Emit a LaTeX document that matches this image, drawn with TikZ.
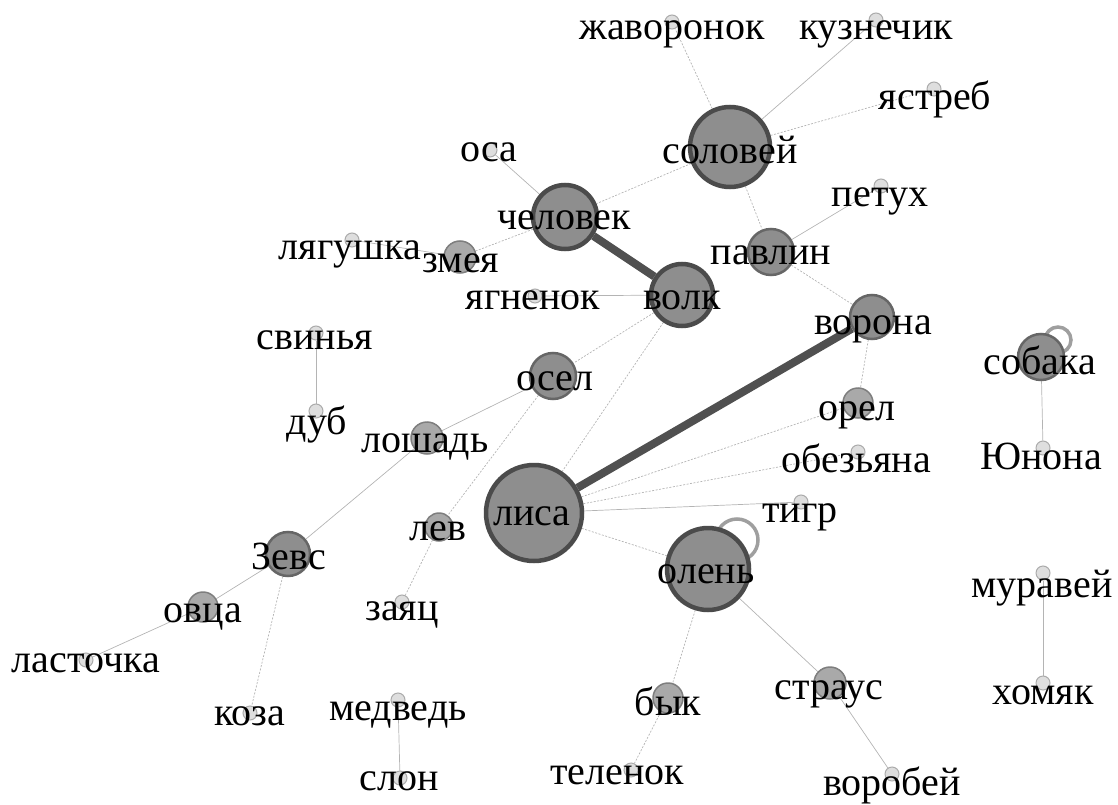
\documentclass[tikz,border=0pt]{standalone}
\usepackage{fontspec}
\setmainfont{Liberation Serif}
\newfontfamily\labelfont{Liberation Serif}
\usetikzlibrary{backgrounds}
\definecolor{nodedark}{HTML}{8E8E8E}
\definecolor{rimdark}{HTML}{4B4B4B}
\definecolor{nodemid}{HTML}{A9A9A9}
\definecolor{rimmid}{HTML}{7E7E7E}
\definecolor{nodelight}{HTML}{DEDEDE}
\definecolor{rimlight}{HTML}{ABABAB}
\definecolor{edgegray}{HTML}{B4B4B4}
\definecolor{strongedge}{HTML}{505050}

\begin{document}
\begin{tikzpicture}[x=1pt, y=-1pt,
    bignode/.style={circle, inner sep=0pt, fill=nodedark, draw=rimdark, line width=4.5pt, minimum size=#1},
    hubnode/.style={circle, inner sep=0pt, fill=nodedark, draw=rimdark!85, line width=2.5pt, minimum size=#1},
    midnode/.style={circle, inner sep=0pt, fill=nodemid, draw=rimmid, line width=1.5pt, minimum size=#1},
    leafnode/.style={circle, inner sep=0pt, fill=nodelight, draw=rimlight, line width=1pt, minimum size=14pt},
    lbl/.style={inner sep=0pt, text height=24pt, text depth=0pt, font=\labelfont\fontsize{40}{44}\selectfont},
    weak/.style={draw=edgegray, line width=0.7pt, dash pattern=on 2pt off 1.5pt},
    plain/.style={draw=edgegray, line width=0.7pt},
    strong/.style={draw=strongedge, line width=8pt},
    selfloop/.style={draw=gray!75, line width=3.5pt}]
    \useasboundingbox (0,0) rectangle (1118,805);

    % hubs
    \node[bignode=80pt] (solovey) at (730,147) {};
    \node[bignode=64pt] (chelovek) at (565,217) {};
    \node[bignode=62pt] (volk) at (682,295) {};
    \node[bignode=96pt] (lisa) at (534,513) {};
    \node[bignode=82pt] (olen) at (708,569) {};
    \node[hubnode=46pt] (sobaka) at (1041,357) {};
    \node[hubnode=44pt] (vorona) at (872,317) {};
    \node[hubnode=44pt] (zevs) at (288,554) {};
    \node[hubnode=46pt] (osel) at (553,376) {};
    \node[hubnode=46pt] (pavlin) at (771,252) {};

    % middle nodes
    \node[midnode=32pt] (zmeya) at (460,257) {};
    \node[midnode=32pt] (loshad) at (427,438) {};
    \node[midnode=30pt] (orel) at (858,403) {};
    \node[midnode=30pt] (ovtsa) at (203,607) {};
    \node[midnode=28pt] (lev) at (439,527) {};
    \node[midnode=30pt] (byk) at (668,698) {};
    \node[midnode=32pt] (straus) at (830,683) {};

    % leaves
    \node[leafnode] (zhavoronok) at (672,22) {};
    \node[leafnode] (kuznechik) at (876,20) {};
    \node[leafnode] (yastreb) at (934,89) {};
    \node[leafnode] (osa) at (490,150) {};
    \node[leafnode] (lyagushka) at (352,240) {};
    \node[leafnode] (yagnenok) at (535,296) {};
    \node[leafnode] (petukh) at (881,186) {};
    \node[leafnode] (yunona) at (1043,448) {};
    \node[leafnode] (obezyana) at (858,452) {};
    \node[leafnode] (tigr) at (801,502) {};
    \node[leafnode] (svinya) at (316,333) {};
    \node[leafnode] (dub) at (316,411) {};
    \node[leafnode] (lastochka) at (86,660) {};
    \node[leafnode] (koza) at (250,713) {};
    \node[leafnode] (zayats) at (402,602) {};
    \node[leafnode] (medved) at (398,700) {};
    \node[leafnode] (slon) at (400,778) {};
    \node[leafnode] (telenok) at (631,770) {};
    \node[leafnode] (vorobey) at (892,774) {};
    \node[leafnode] (muravey) at (1043,573) {};
    \node[leafnode] (khomyak) at (1043,683) {};

    \begin{pgfonlayer}{background}
        \draw[weak] (solovey) -- (zhavoronok);
        \draw[plain] (solovey) -- (kuznechik);
        \draw[weak] (solovey) -- (yastreb);
        \draw[weak] (solovey) -- (chelovek);
        \draw[weak] (solovey) -- (pavlin);
        \draw[plain] (chelovek) -- (osa);
        \draw[weak] (chelovek) -- (zmeya);
        \draw[plain] (zmeya) -- (lyagushka);
        \draw[strong] (chelovek) -- (volk);
        \draw[plain] (volk) -- (yagnenok);
        \draw[weak] (volk) -- (osel);
        \draw[weak] (volk) -- (lisa);
        \draw[plain] (pavlin) -- (petukh);
        \draw[weak] (pavlin) -- (vorona);
        \draw[strong] (lisa) -- (vorona);
        \draw[weak] (vorona) -- (orel);
        \draw[weak] (lisa) -- (orel);
        \draw[weak] (lisa) -- (obezyana);
        \draw[plain] (lisa) -- (tigr);
        \draw[weak] (lisa) -- (olen);
        \draw[plain] (osel) -- (loshad);
        \draw[weak] (osel) -- (lev);
        \draw[weak] (lev) -- (zayats);
        \draw[plain] (loshad) -- (zevs);
        \draw[plain] (zevs) -- (ovtsa);
        \draw[plain] (ovtsa) -- (lastochka);
        \draw[weak] (zevs) -- (koza);
        \draw[plain] (svinya) -- (dub);
        \draw[plain] (medved) -- (slon);
        \draw[weak] (olen) -- (byk);
        \draw[weak] (byk) -- (telenok);
        \draw[plain] (olen) -- (straus);
        \draw[plain] (straus) -- (vorobey);
        \draw[plain] (sobaka) -- (yunona);
        \draw[plain] (muravey) -- (khomyak);
        % self loops
        \draw[selfloop] ([shift={(29,-29)}]olen.center) circle[radius=21pt];
        \draw[selfloop] ([shift={(17,-17)}]sobaka.center) circle[radius=13pt];
    \end{pgfonlayer}

    % labels
    \node[lbl] (solovey-t) at (730,152) {соловей};
    \node[lbl] (chelovek-t) at (564,217) {человек};
    \node[lbl] (volk-t) at (682,297) {волк};
    \node[lbl] (lisa-t) at (532,513) {лиса};
    \node[lbl] (olen-t) at (706,571) {олень};
    \node[lbl] (sobaka-t) at (1040,362) {собака};
    \node[lbl] (vorona-t) at (873,322) {ворона};
    \node[lbl] (zevs-t) at (289,557) {Зевс};
    \node[lbl] (osel-t) at (555,378) {осел};
    \node[lbl] (pavlin-t) at (771,252) {павлин};
    \node[lbl] (zmeya-t) at (461,260) {змея};
    \node[lbl] (loshad-t) at (425,440) {лошадь};
    \node[lbl] (orel-t) at (857,408) {орел};
    \node[lbl] (ovtsa-t) at (203,610) {овца};
    \node[lbl] (lev-t) at (438,528) {лев};
    \node[lbl] (byk-t) at (668,703) {бык};
    \node[lbl] (straus-t) at (829,687) {страус};
    \node[lbl] (zhavoronok-t) at (672,28) {жаворонок};
    \node[lbl] (kuznechik-t) at (876,28) {кузнечик};
    \node[lbl] (yastreb-t) at (935,98) {ястреб};
    \node[lbl] (osa-t) at (489,150) {оса};
    \node[lbl] (lyagushka-t) at (350,247) {лягушка};
    \node[lbl] (yagnenok-t) at (533,297) {ягненок};
    \node[lbl] (petukh-t) at (880,195) {петух};
    \node[lbl] (yunona-t) at (1041,457) {Юнона};
    \node[lbl] (obezyana-t) at (856,460) {обезьяна};
    \node[lbl] (tigr-t) at (800,510) {тигр};
    \node[lbl] (svinya-t) at (315,337) {свинья};
    \node[lbl] (dub-t) at (317,422) {дуб};
    \node[lbl] (lastochka-t) at (86,660) {ласточка};
    \node[lbl] (koza-t) at (250,713) {коза};
    \node[lbl] (zayats-t) at (402,608) {заяц};
    \node[lbl] (medved-t) at (398,708) {медведь};
    \node[lbl] (slon-t) at (399,778) {слон};
    \node[lbl] (telenok-t) at (617,772) {теленок};
    \node[lbl] (vorobey-t) at (892,783) {воробей};
    \node[lbl] (muravey-t) at (1042,585) {муравей};
    \node[lbl] (khomyak-t) at (1043,692) {хомяк};
\end{tikzpicture}
\end{document}
